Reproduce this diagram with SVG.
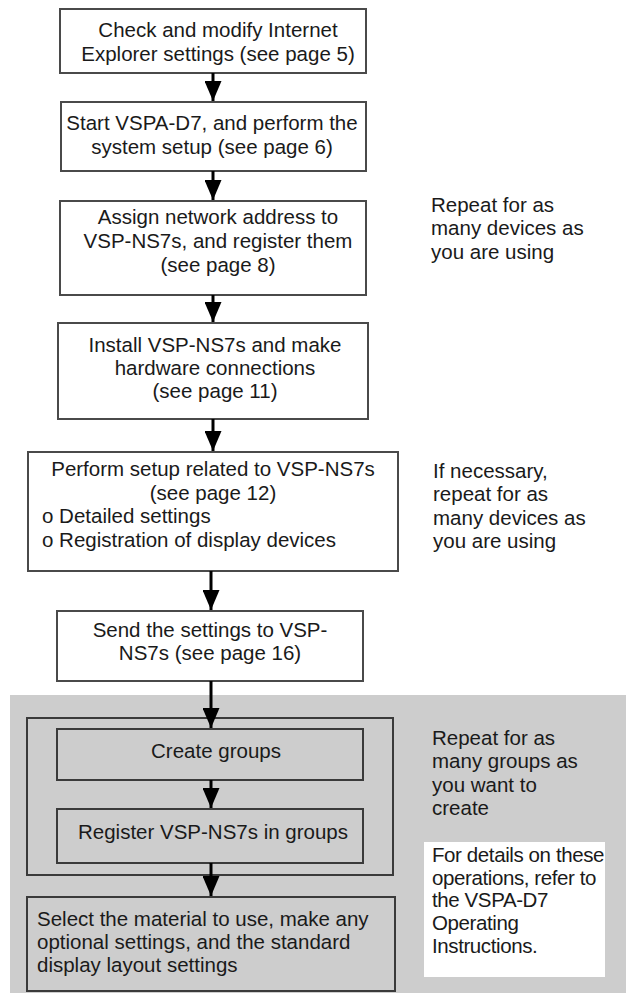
<svg xmlns="http://www.w3.org/2000/svg" width="626" height="993" viewBox="0 0 626 993">
<style>
text{font-family:"Liberation Sans",Arial,Helvetica,sans-serif;font-size:20.5px;fill:#1a1a1a}
.c{text-anchor:middle}
.box{fill:#fff;stroke:#4a4a4a;stroke-width:2}
.gbox{fill:#cdcdcd;stroke:#3a3a3a;stroke-width:2}
.conn{stroke:#000;stroke-width:3;fill:none}
.cond{letter-spacing:-0.4px}
</style>
<defs>
<marker id="ah" viewBox="0 0 20 17" refX="20" refY="8.5" markerWidth="20" markerHeight="17" markerUnits="userSpaceOnUse" orient="auto">
<path d="M0,0 L20,8.5 L0,17 Z" fill="#000"/>
</marker>
</defs>
<rect width="626" height="993" fill="#fff"/>
<rect id="gray-region" x="10" y="695" width="616" height="298" fill="#cdcdcd"/>

<g id="n1"><rect class="box" x="60" y="9" width="306" height="64"/>
<text class="c" x="218" y="37">Check and modify Internet</text>
<text class="c" x="218" y="61">Explorer settings (see page 5)</text></g>

<g id="n2"><rect class="box" x="61" y="102" width="305" height="69"/>
<text class="c" x="212" y="130">Start VSPA-D7, and perform the</text>
<text class="c" x="212" y="154">system setup (see page 6)</text></g>

<g id="n3"><rect class="box" x="60" y="201" width="306" height="94"/>
<text class="c" x="218" y="224">Assign network address to</text>
<text class="c" x="218" y="248">VSP-NS7s, and register them</text>
<text class="c" x="218" y="272">(see page 8)</text></g>

<g id="n4"><rect class="box" x="58" y="323" width="310" height="96"/>
<text class="c" x="215" y="352">Install VSP-NS7s and make</text>
<text class="c" x="215" y="375">hardware connections</text>
<text class="c" x="215" y="398">(see page 11)</text></g>

<g id="n5"><rect class="box" x="28" y="452" width="370" height="119"/>
<text class="c" x="213" y="476">Perform setup related to VSP-NS7s</text>
<text class="c" x="213" y="500">(see page 12)</text>
<text x="42" y="523">o Detailed settings</text>
<text x="42" y="547">o Registration of display devices</text></g>

<g id="n6"><rect class="box" x="57" y="611" width="306" height="70"/>
<text class="c" x="210" y="637">Send the settings to VSP-</text>
<text class="c" x="210" y="660">NS7s (see page 16)</text></g>

<g id="loop-group"><rect class="gbox" x="27" y="718" width="366" height="157"/></g>

<g id="n7"><rect class="gbox" x="57" y="729" width="306" height="51"/>
<text class="c" x="216" y="758">Create groups</text></g>

<g id="n8"><rect class="gbox" x="57" y="809" width="306" height="54"/>
<text class="c" x="213" y="839">Register VSP-NS7s in groups</text></g>

<g id="n9"><rect class="gbox" x="27" y="897" width="368" height="94"/>
<text x="37" y="926">Select the material to use, make any</text>
<text x="37" y="949">optional settings, and the standard</text>
<text x="37" y="972">display layout settings</text></g>

<g id="note1">
<text x="431" y="212">Repeat for as</text>
<text x="431" y="235">many devices as</text>
<text x="431" y="259">you are using</text></g>

<g id="note2">
<text x="433" y="478">If necessary,</text>
<text x="433" y="501">repeat for as</text>
<text x="433" y="525">many devices as</text>
<text x="433" y="548">you are using</text></g>

<g id="note3">
<text x="432" y="745">Repeat for as</text>
<text x="432" y="768">many groups as</text>
<text x="432" y="792">you want to</text>
<text x="432" y="815">create</text></g>

<g id="note4"><rect x="424" y="842" width="181" height="135" fill="#fff"/>
<text class="cond" x="432" y="862">For details on these</text>
<text class="cond" x="432" y="885">operations, refer to</text>
<text class="cond" x="432" y="907">the VSPA-D7</text>
<text class="cond" x="432" y="930">Operating</text>
<text class="cond" x="432" y="953">Instructions.</text></g>

<g id="connectors">
<line class="conn" x1="213" y1="73" x2="213" y2="101" marker-end="url(#ah)"/>
<line class="conn" x1="213" y1="171" x2="213" y2="200" marker-end="url(#ah)"/>
<line class="conn" x1="213" y1="295" x2="213" y2="322" marker-end="url(#ah)"/>
<line class="conn" x1="213" y1="419" x2="213" y2="451" marker-end="url(#ah)"/>
<line class="conn" x1="211" y1="571" x2="211" y2="610" marker-end="url(#ah)"/>
<line class="conn" x1="211" y1="681" x2="211" y2="728" marker-end="url(#ah)"/>
<line class="conn" x1="211" y1="780" x2="211" y2="808" marker-end="url(#ah)"/>
<line class="conn" x1="211" y1="863" x2="211" y2="896" marker-end="url(#ah)"/>
</g>
</svg>
